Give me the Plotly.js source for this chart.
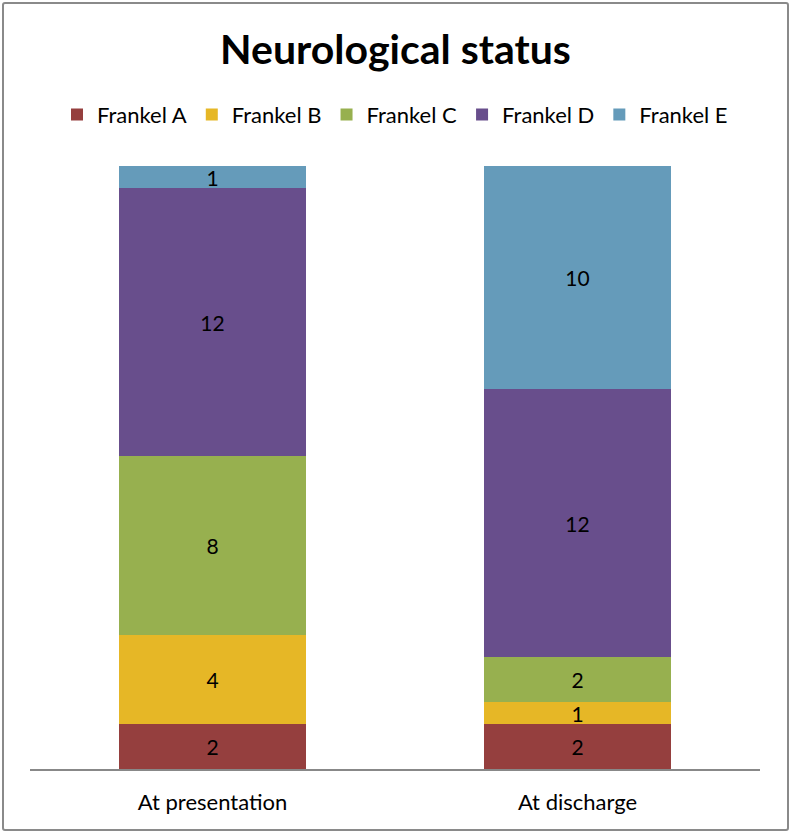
<!DOCTYPE html>
<html>
<head>
<meta charset="utf-8">
<script src="https://cdn.plot.ly/plotly-3.0.1.min.js"></script>
<style>
  body { margin: 0; background: #fff; }
  #wrap { position: relative; width: 791px; height: 835px; }
  #frame { position: absolute; left: 2px; top: 2px; width: 783px; height: 825px;
           border: 2px solid #8a8a8a; border-radius: 3px; pointer-events: none; }
</style>
</head>
<body>
<div id="wrap">
  <div id="myDiv" style="width:791px;height:835px;"></div>
  <div id="frame"></div>
</div>
<script>
var stages = ['At presentation', 'At discharge'];
var grades = ['Frankel A', 'Frankel B', 'Frankel C', 'Frankel D', 'Frankel E'];
var frankelA = [2, 2];
var frankelB = [4, 1];
var frankelC = [8, 2];
var frankelD = [12, 12];
var frankelE = [1, 10];
var colors = ['#953f3e', '#e6b726', '#97b04f', '#684e8c', '#659bba'];

var series = [frankelA, frankelB, frankelC, frankelD, frankelE];
var fontFam = 'Lato, "Open Sans", sans-serif';

var data = series.map(function (vals, i) {
  return {
    x: stages,
    y: vals,
    name: grades[i],
    type: 'bar',
    width: 0.512,
    marker: {color: colors[i], line: {width: 0}},
    text: vals.map(String),
    textposition: 'inside',
    insidetextanchor: 'middle',
    constraintext: 'none',
    textangle: 0,
    textfont: {family: fontFam, size: 21, color: '#000'},
    hoverinfo: 'name+y'
  };
});

var layout = {
  title: {
    text: '<b>Neurological status</b>',
    font: {family: fontFam, size: 41, color: '#000'},
    x: 0.5, xanchor: 'center',
    y: 0.94, yanchor: 'middle'
  },
  barmode: 'stack',
  width: 791,
  height: 835,
  margin: {l: 30, r: 31, t: 166, b: 66},
  showlegend: true,
  legend: {
    orientation: 'h',
    x: 0.5, xanchor: 'center',
    y: 1.085, yanchor: 'middle',
    traceorder: 'normal',
    font: {family: fontFam, size: 22, color: '#000'},
    itemwidth: 30
  },
  xaxis: {
    range: [-0.5, 1.5],
    showline: true,
    linecolor: '#888',
    linewidth: 2,
    ticks: 'outside',
    ticklen: 13,
    tickcolor: 'rgba(0,0,0,0)',
    tickfont: {family: fontFam, size: 22, color: '#000'},
    fixedrange: true
  },
  yaxis: {
    range: [0, 27],
    visible: false,
    showgrid: false,
    zeroline: false,
    fixedrange: true
  },
  plot_bgcolor: '#fff',
  paper_bgcolor: '#fff'
};

Plotly.newPlot('myDiv', data, layout, {displayModeBar: false});
</script>
</body>
</html>
